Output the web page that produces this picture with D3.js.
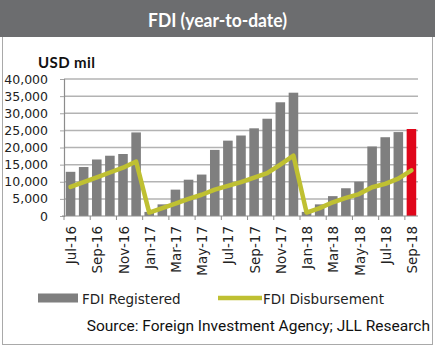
<!DOCTYPE html>
<html>
<head>
<meta charset="utf-8">
<script src="https://cdn.jsdelivr.net/npm/d3@7"></script>
<style>
  body { margin: 0; background: #fff; }
  svg { display: block; }
</style>
</head>
<body>
<div id="chart"></div>
<script>
// months shown on the category axis (year-to-date values, reset each January)
const months = ["Jul-16", "Aug-16", "Sep-16", "Oct-16", "Nov-16", "Dec-16",
  "Jan-17", "Feb-17", "Mar-17", "Apr-17", "May-17", "Jun-17", "Jul-17", "Aug-17",
  "Sep-17", "Oct-17", "Nov-17", "Dec-17",
  "Jan-18", "Feb-18", "Mar-18", "Apr-18", "May-18", "Jun-18", "Jul-18", "Aug-18", "Sep-18"];

// FDI Registered, USD mil
const registered = [12900, 14300, 16500, 17600, 18100, 24400,
  1200, 3400, 7700, 10600, 12100, 19300, 22000, 23500,
  25600, 28400, 33200, 36000,
  1200, 3400, 5800, 8100, 10000, 20300, 23000, 24500, 25400];

// FDI Disbursement, USD mil
const disbursed = [8500, 9900, 11300, 12700, 14100, 15900,
  1000, 2300, 3600, 5000, 6200, 7700, 8800, 9900,
  11200, 12500, 15000, 17600,
  1000, 2300, 4000, 5300, 6400, 8400, 9400, 10900, 13300];

const yTicks = [0, 5000, 10000, 15000, 20000, 25000, 30000, 35000, 40000];

const width = 435, height = 350;
const plotLeft = 64, plotRight = 418, plotTop = 79, plotBottom = 216;

const svg = d3.select("#chart").append("svg")
  .attr("width", width)
  .attr("height", height);

// outer frame
svg.append("rect")
  .attr("x", 2.5).attr("y", 0.5)
  .attr("width", 430).attr("height", 344)
  .attr("fill", "none")
  .attr("stroke", "#a9a9a9");

// title bar
svg.append("rect")
  .attr("x", 0).attr("y", 0)
  .attr("width", width).attr("height", 37)
  .attr("fill", "#6c6d6f");

svg.append("text")
  .attr("x", 217.5).attr("y", 27)
  .attr("text-anchor", "middle")
  .attr("fill", "#fff")
  .style("font-family", "Lato, 'Open Sans', sans-serif")
  .style("font-weight", "bold")
  .style("font-size", "18px")
  .attr("textLength", 139)
  .attr("lengthAdjust", "spacingAndGlyphs")
  .text("FDI (year-to-date)");

svg.append("text")
  .attr("x", 38).attr("y", 68)
  .attr("fill", "#111")
  .style("font-family", "Lato, 'Open Sans', sans-serif")
  .style("font-weight", "bold")
  .style("font-size", "15px")
  .attr("textLength", 57)
  .attr("lengthAdjust", "spacing")
  .text("USD mil");

const x = d3.scaleBand()
  .domain(months)
  .range([plotLeft, plotRight])
  .paddingInner(0.27)
  .paddingOuter(0.135);

const y = d3.scaleLinear()
  .domain([0, 40000])
  .range([plotBottom, plotTop]);

// gridlines
svg.append("g")
  .selectAll("line")
  .data(yTicks.filter(d => d > 0))
  .enter().append("line")
  .attr("x1", plotLeft).attr("x2", plotRight)
  .attr("y1", d => y(d)).attr("y2", d => y(d))
  .attr("stroke", "#b3b3b3")
  .attr("stroke-width", 1.5);

// y axis
const yAxis = svg.append("g")
  .attr("transform", `translate(${plotLeft},0)`)
  .call(d3.axisLeft(y).tickValues(yTicks).tickSize(4).tickPadding(12)
    .tickFormat(d3.format(",")));
yAxis.select(".domain").attr("stroke", "#8c8c8c").attr("stroke-width", 1.2);
yAxis.selectAll(".tick line").attr("stroke", "#a6a6a6");
yAxis.selectAll("text")
  .attr("fill", "#222")
  .style("font-family", "'DejaVu Sans', sans-serif")
  .style("font-size", "12.5px");

// bars
svg.append("g")
  .selectAll("rect")
  .data(registered)
  .enter().append("rect")
  .attr("x", (d, i) => x(months[i]))
  .attr("width", x.bandwidth())
  .attr("y", d => y(d))
  .attr("height", d => y(0) - y(d))
  .attr("fill", (d, i) => i === registered.length - 1 ? "#e0061a" : "#7f7f7f");

// disbursement line
const line = d3.line()
  .x((d, i) => x(months[i]) + x.bandwidth() / 2)
  .y(d => y(d));

svg.append("path")
  .datum(disbursed)
  .attr("d", line)
  .attr("fill", "none")
  .attr("stroke", "#bfc032")
  .attr("stroke-width", 4.5)
  .attr("stroke-linejoin", "round")
  .attr("stroke-linecap", "round");

// x axis: tick marks every two months, labels on the odd months
const step = x.step();
const xg = svg.append("g");
xg.append("line")
  .attr("x1", plotLeft - 2).attr("x2", plotRight)
  .attr("y1", plotBottom).attr("y2", plotBottom)
  .attr("stroke", "#8c8c8c")
  .attr("stroke-width", 1.2);
xg.selectAll("line.tk")
  .data(months.filter((m, i) => i % 2 === 0))
  .enter().append("line")
  .attr("class", "tk")
  .attr("x1", d => x(d) - x.paddingInner() * step / 2)
  .attr("x2", d => x(d) - x.paddingInner() * step / 2)
  .attr("y1", plotBottom).attr("y2", plotBottom + 4)
  .attr("stroke", "#8c8c8c");
xg.selectAll("text")
  .data(months.filter((m, i) => i % 2 === 0))
  .enter().append("text")
  .attr("transform", d => `translate(${x(d) + x.bandwidth() / 2 + 5.5},${plotBottom + 10}) rotate(-90)`)
  .attr("text-anchor", "end")
  .attr("fill", "#222")
  .style("font-family", "'DejaVu Sans', sans-serif")
  .style("font-size", "13.5px")
  .text(d => d);

// legend
const lg = svg.append("g")
  .style("font-family", "'DejaVu Sans', sans-serif")
  .style("font-size", "13.5px")
  .attr("fill", "#222");
lg.append("rect")
  .attr("x", 38).attr("y", 293.5)
  .attr("width", 40).attr("height", 9)
  .attr("fill", "#7f7f7f");
lg.append("text").attr("x", 82).attr("y", 304).text("FDI Registered");
lg.append("line")
  .attr("x1", 218).attr("x2", 262)
  .attr("y1", 298).attr("y2", 298)
  .attr("stroke", "#bfc032")
  .attr("stroke-width", 4.5);
lg.append("text").attr("x", 263).attr("y", 304).text("FDI Disbursement");

// source note
svg.append("text")
  .attr("x", 430).attr("y", 331)
  .attr("text-anchor", "end")
  .attr("fill", "#111")
  .style("font-family", "Roboto, sans-serif")
  .style("font-size", "15.5px")
  .text("Source: Foreign Investment Agency; JLL Research");
</script>
</body>
</html>
